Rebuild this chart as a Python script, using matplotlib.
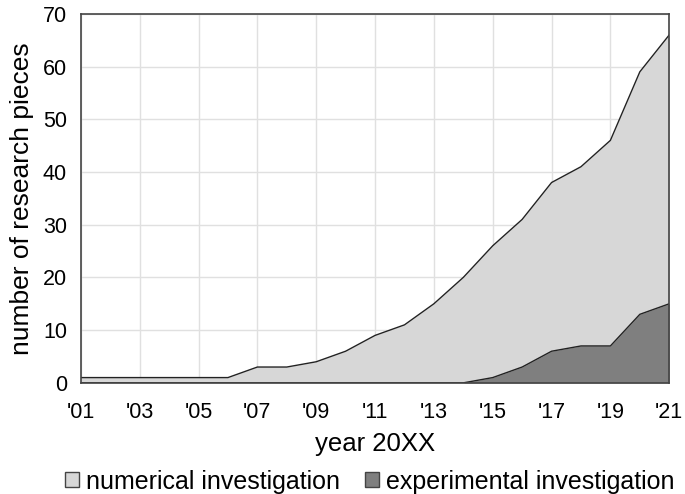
import matplotlib
matplotlib.use("Agg")
import matplotlib.pyplot as plt
from matplotlib.patches import Patch

years = [2001, 2002, 2003, 2004, 2005, 2006, 2007, 2008, 2009, 2010, 2011,
         2012, 2013, 2014, 2015, 2016, 2017, 2018, 2019, 2020, 2021]
total = [1, 1, 1, 1, 1, 1, 3, 3, 4, 6, 9, 11, 15, 20, 26, 31, 38, 41, 46, 59, 66]
experimental = [0, 0, 0, 0, 0, 0, 0, 0, 0, 0, 0, 0, 0, 0, 1, 3, 6, 7, 7, 13, 15]
tick_years = [2001, 2003, 2005, 2007, 2009, 2011, 2013, 2015, 2017, 2019, 2021]
tick_labels = ["'01", "'03", "'05", "'07", "'09", "'11", "'13", "'15", "'17", "'19", "'21"]

plt.rcParams['font.family'] = ['Liberation Sans', 'DejaVu Sans']

light = '#d7d7d7'
dark = '#7f7f7f'

fig = plt.figure(figsize=(6.85, 4.94), dpi=100)
ax = fig.add_axes([0.118, 0.225, 0.859, 0.747])

ax.fill_between(years, 0, total, color=light, lw=0, zorder=2)
ax.plot(years, total, color='#222222', lw=1.0, zorder=3)
ax.fill_between(years, 0, experimental, color=dark, lw=0, zorder=4)
ax.plot(years, experimental, color='#222222', lw=1.0, zorder=5)

ax.set_xlim(2001, 2021)
ax.set_ylim(0, 70)
ax.set_xticks(tick_years)
ax.set_xticklabels(tick_labels)
ax.set_yticks(range(0, 71, 10))
ax.grid(True, color='#e0e0e0', lw=1.0, zorder=0)
ax.set_axisbelow(True)
ax.tick_params(axis='x', length=0, labelsize=15.5, pad=14)
ax.tick_params(axis='y', length=0, labelsize=15.5, pad=10)
for s in ax.spines.values():
    s.set_color('#444444')
    s.set_linewidth(1.2)
    s.set_zorder(6)

ax.set_xlabel('year 20XX', fontsize=18.5, labelpad=6)
ax.set_ylabel('number of research pieces', fontsize=19, labelpad=6)

handles = [Patch(facecolor=light, edgecolor='#444444', label='numerical investigation'),
           Patch(facecolor=dark, edgecolor='#444444', label='experimental investigation')]
fig.legend(handles=handles, loc='lower center', bbox_to_anchor=(0.54, -0.04), ncol=2,
           frameon=False, fontsize=18, handlelength=0.55, handleheight=0.55,
           handletextpad=0.3, columnspacing=1.0, borderpad=0.3)

fig.savefig('out.png', dpi=100)
